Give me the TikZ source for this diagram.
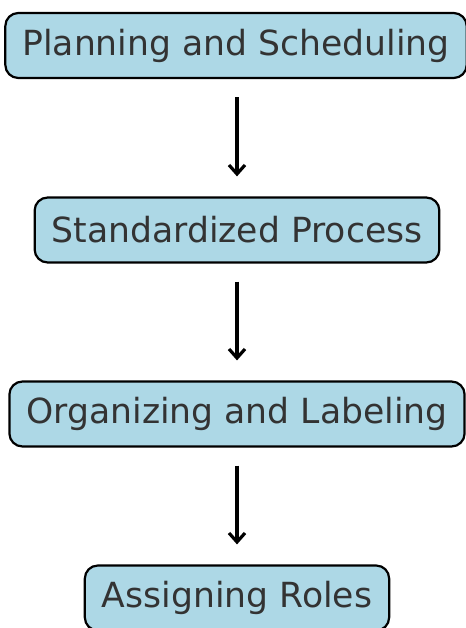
\documentclass[tikz,border=0pt]{standalone}
\usepackage{fontspec}
\setmainfont{DejaVu Sans}
\usepackage{tikz}
\usetikzlibrary{arrows.meta}
\definecolor{boxfill}{RGB}{173,216,230}
\definecolor{boxtext}{RGB}{51,51,51}
\tikzset{
  stagebox/.style={draw=black, line width=2.2pt, fill=boxfill, rounded corners=13pt,
    text=boxtext, font=\fontsize{34.6}{40}\selectfont, inner xsep=17pt, minimum height=65pt},
  flowarrow/.style={line width=3.2pt, -{Straight Barb[length=9pt,width=16pt,line width=3.2pt]},
    shorten <=18pt, shorten >=20pt}
}

\begin{document}
\begin{tikzpicture}[x=1pt, y=-1pt]
			%%%%% START %%%%%
			
			\useasboundingbox (0, 0) rectangle (465, 628);
			
			\node[stagebox] (plan) at (236, 45.5) {Planning and Scheduling};
			\node[stagebox] (std) at (237, 230) {Standardized Process};
			\node[stagebox] (org) at (237, 414) {Organizing and Labeling};
			\node[stagebox] (roles) at (237, 598) {Assigning Roles};
			
			\draw[flowarrow] (plan.south -| 237, 0) -- (std.north);
			\draw[flowarrow] (std.south) -- (org.north);
			\draw[flowarrow] (org.south) -- (roles.north);
			
			%%%%% END %%%%%
		\end{tikzpicture}
\end{document}
